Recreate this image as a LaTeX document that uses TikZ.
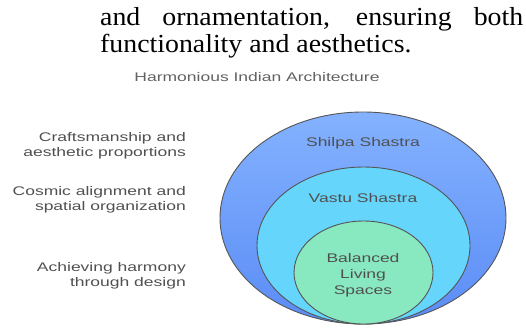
\documentclass[tikz,border=0pt]{standalone}
\usepackage{fontspec}
\setmainfont[FakeStretch=1.07]{Liberation Serif}
\newfontfamily\napkin[FakeStretch=1.4]{Liberation Sans}
\usetikzlibrary{shapes.geometric}

\definecolor{ringline}{HTML}{555555}
\definecolor{shilpatop}{HTML}{84B2FF}
\definecolor{shilpabottom}{HTML}{5A8CF6}
\definecolor{vastufill}{HTML}{66D5FB}
\definecolor{livingfill}{HTML}{88E8BF}
\definecolor{labelgray}{HTML}{505050}
\definecolor{titlegray}{HTML}{626262}

\tikzset{
  ring/.style={ellipse, draw=ringline, line width=0.9pt, inner sep=0pt, outer sep=0pt},
  ringtext/.style={font=\napkin\fontsize{12.5}{16}\selectfont, text=labelgray, align=center, inner sep=0pt},
  sidetext/.style={font=\napkin\fontsize{12.5}{15}\selectfont, text=labelgray, align=right, anchor=east, inner sep=0pt},
  bodytext/.style={font=\fontsize{26}{27}\selectfont, anchor=base west, inner sep=0pt}
}

\begin{document}
\begin{tikzpicture}[x=1pt, y=-1pt]
        \useasboundingbox (0,0) rectangle (526,327);

        % running text above the figure
        \node[bodytext] (line1) at (100,25) {\makebox[423pt][s]{and ornamentation, ensuring both}};
        \node[bodytext] (line2) at (100,52) {functionality and aesthetics.};

        \node[font=\napkin\fontsize{12.5}{15}\selectfont, text=titlegray, inner sep=0pt] (title) at (257,77.5) {Harmonious Indian Architecture};

        % nested rings, all resting on the same bottom point
        \node[ring, top color=shilpatop, bottom color=shilpabottom, minimum width=286pt, minimum height=212pt] (shilpa) at (363,218) {};
        \node[ring, fill=vastufill, minimum width=213pt, minimum height=157pt] (vastu) at (363.5,245.5) {};
        \node[ring, fill=livingfill, minimum width=139pt, minimum height=103pt] (living) at (363.5,272.5) {};

        \node[ringtext] (shilpalabel) at (363,143) {Shilpa Shastra};
        \node[ringtext] (vastulabel) at (363,198) {Vastu Shastra};
        \node[ringtext] (livinglabel) at (363,275) {Balanced\\Living\\Spaces};

        % descriptions on the left
        \node[sidetext] (craft) at (186,145.3) {Craftsmanship and\\aesthetic proportions};
        \node[sidetext] (cosmic) at (186,199.3) {Cosmic alignment and\\spatial organization};
        \node[sidetext] (harmony) at (186,275.3) {Achieving harmony\\through design};

\end{tikzpicture}
\end{document}
